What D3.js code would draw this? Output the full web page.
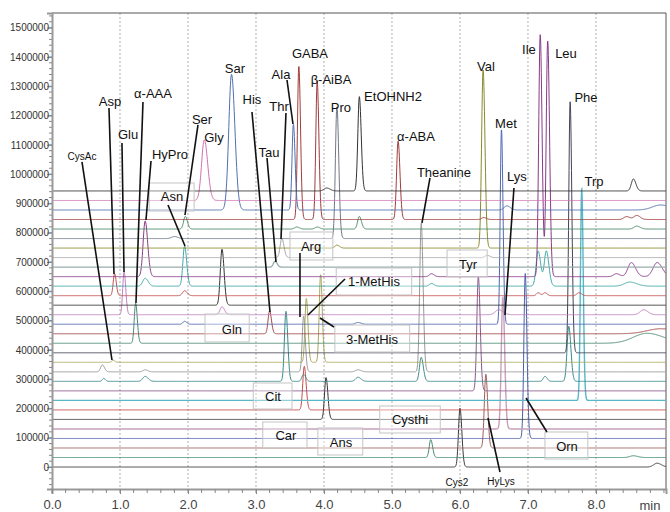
<!DOCTYPE html>
<html>
<head>
<meta charset="utf-8">
<script src="https://cdn.jsdelivr.net/npm/d3@7"></script>
<style>
  body { margin: 0; background: #fff; }
  svg { display: block; font-family: "Liberation Sans", Arial, sans-serif; }
</style>
</head>
<body>
<svg id="chart" width="670" height="512"></svg>
<script>
// one colour per stacked run, bottom run first
const traceColors = [
  "#3a3a3a", "#3f8a6c", "#a0605a", "#4a5fa8", "#c8a0bc", "#333333",
  "#c84a4a", "#58b8c8", "#8a5a8a", "#3a8a8a", "#9a9a9a", "#a8a860",
  "#444456", "#4a8a70", "#a04848", "#5068b0", "#c080c0", "#333333",
  "#c05050", "#40a8a8", "#883a88", "#98acac", "#a4a4a4", "#8a8a30",
  "#707888", "#4a8a6a", "#a03c3c", "#5070b0", "#d070b0", "#333333"
]
const traceStep = 32500

// peaks: [run, time (min), height, width (min)]
const peaks = [
  [0, 6.00, 201000, 0.022], [0, 8.90, 13000, 0.05],
  [1, 5.57, 61000, 0.022], [1, 8.55, 6000, 0.05],
  [2, 6.38, 252000, 0.022],
  [3, 6.96, 563000, 0.02],
  [4, 6.63, 450000, 0.022],
  [5, 4.03, 143000, 0.022],
  [6, 3.71, 149000, 0.022],
  [7, 7.79, 724000, 0.018],
  [8, 6.27, 390000, 0.022],
  [9, 0.76, 10000, 0.02], [9, 1.37, 17000, 0.035], [9, 3.44, 239000, 0.022],
  [9, 3.70, 24000, 0.025], [9, 4.50, 14000, 0.035], [9, 5.43, 82000, 0.025],
  [9, 7.25, 17000, 0.025], [9, 7.60, 188000, 0.025],
  [10, 0.74, 24000, 0.025], [10, 1.37, 7000, 0.03], [10, 3.70, 190000, 0.02],
  [10, 4.50, 7000, 0.035], [10, 5.43, 509000, 0.022],
  [11, 0.90, 7000, 0.02], [11, 3.74, 218000, 0.02], [11, 3.95, 300000, 0.02],
  [12, 7.62, 857000, 0.02],
  [13, 1.23, 137000, 0.02], [13, 8.75, 34000, 0.2],
  [14, 3.20, 78000, 0.022], [14, 8.95, 17000, 0.2],
  [15, 1.95, 10000, 0.025], [15, 4.50, 6000, 0.035], [15, 6.61, 666000, 0.018],
  [16, 1.06, 147000, 0.02], [16, 2.50, 27000, 0.03], [16, 6.57, 17000, 0.05], [16, 8.70, 17000, 0.05],
  [17, 2.50, 191000, 0.025],
  [18, 0.92, 75000, 0.02], [18, 1.95, 17000, 0.03], [18, 7.15, 10000, 0.025],
  [18, 7.25, 10000, 0.025], [18, 7.75, 10000, 0.03],
  [19, 1.37, 27000, 0.035], [19, 1.95, 137000, 0.025], [19, 5.58, 9000, 0.03],
  [19, 7.15, 120000, 0.03], [19, 7.27, 120000, 0.03], [19, 8.50, 14000, 0.08],
  [20, 1.37, 190000, 0.03], [20, 5.58, 10000, 0.03], [20, 7.18, 826000, 0.022],
  [20, 7.29, 806000, 0.022], [20, 8.30, 10000, 0.04], [20, 8.52, 48000, 0.05],
  [20, 8.90, 48000, 0.06],
  [21, 3.28, 20000, 0.025],
  [22, 3.38, 65000, 0.025], [22, 6.40, 8000, 0.03],
  [23, 4.19, 10000, 0.03], [23, 6.34, 608000, 0.022],
  [24, 1.80, 7000, 0.04], [24, 4.19, 451000, 0.022],
  [25, 1.96, 43000, 0.025], [25, 3.60, 7000, 0.03], [25, 3.90, 7000, 0.03],
  [25, 4.52, 43000, 0.025], [25, 8.60, 10000, 0.04],
  [26, 3.63, 524000, 0.02], [26, 3.90, 473000, 0.02], [26, 5.09, 268000, 0.022],
  [26, 6.35, 7000, 0.03], [26, 8.45, 10000, 0.04], [26, 8.60, 14000, 0.04],
  [27, 2.64, 463000, 0.04], [27, 3.55, 293000, 0.02], [27, 6.69, 14000, 0.04],
  [27, 8.95, 17000, 0.12],
  [28, 2.24, 207000, 0.04],
  [29, 4.04, 10000, 0.04], [29, 4.52, 322000, 0.022], [29, 8.55, 41000, 0.03]
]

// peak names: [text, time, signal]
const labels = [
  ["CysAc", 0.441, 1048000], ["Asp", 0.853, 1232600], ["Glu", 1.118, 1119900],
  ["α-AAA", 1.485, 1259900], ["HyPro", 1.735, 1051600], ["Ser", 2.206, 1171100],
  ["Gly", 2.382, 1109700], ["Asn", 1.765, 908200], ["Sar", 2.691, 1345200],
  ["His", 2.941, 1239400], ["Tau", 3.191, 1058400], ["Thr", 3.338, 1215500],
  ["Ala", 3.368, 1324700], ["GABA", 3.794, 1396400], ["β-AiBA", 4.103, 1307700],
  ["Pro", 4.25, 1212100], ["EtOHNH2", 5.015, 1249600], ["α-ABA", 5.353, 1113100],
  ["Theanine", 5.765, 990200], ["Val", 6.382, 1352100], ["Met", 6.676, 1157500],
  ["Lys", 6.838, 976500], ["Ile", 7.015, 1410100], ["Leu", 7.559, 1396400],
  ["Phe", 7.853, 1246200], ["Trp", 7.971, 959400], ["Arg", 3.809, 737500],
  ["1-MetHis", 4.735, 618000], ["3-MetHis", 4.706, 420000], ["Gln", 2.647, 454200],
  ["Tyr", 6.118, 676100], ["Cit", 3.25, 225400], ["Car", 3.441, 92300],
  ["Ans", 4.25, 68400], ["Cysthi", 5.265, 146900], ["Orn", 7.574, 54700],
  ["Cys2", 5.956, -64800], ["HyLys", 6.603, -61300]
]
const smallLabels = ["CysAc", "Cys2", "HyLys"]

// leader lines: [time1, signal1, time2, signal2]
const leaders = [
  [0.441, 1041400, 0.882, 365400], [0.838, 1225700, 0.912, 659000],
  [1.029, 1106200, 1.059, 665800], [1.338, 1246200, 1.235, 560000],
  [1.456, 1044800, 1.382, 843400], [2.147, 1167700, 1.956, 860400],
  [1.706, 894600, 1.956, 754600], [2.941, 1212100, 3.206, 529300],
  [3.162, 1055000, 3.294, 700000], [3.441, 1208700, 3.368, 778500],
  [3.456, 1321300, 3.544, 1171100], [5.559, 986800, 5.441, 833100],
  [6.794, 952600, 6.662, 519000], [3.647, 730700, 3.647, 512200],
  [4.309, 641900, 3.765, 519000], [4.147, 478100, 3.941, 508800],
  [7.279, 119600, 6.971, 235700], [6.588, -17000, 6.412, 167400]
]

// label frames: [time1, signal1, time2, signal2]
const frames = [
  [1.43, 969700, 2.09, 874100], [3.50, 802400, 4.13, 706800],
  [4.18, 679500, 5.29, 587300], [4.16, 484900, 5.26, 392700],
  [2.25, 522500, 2.90, 426900], [5.81, 740900, 6.40, 648800],
  [2.96, 286900, 3.53, 198100], [3.10, 153700, 3.75, 65000],
  [3.91, 133300, 4.57, 41100], [4.82, 208400, 5.71, 116200],
  [7.25, 119600, 7.88, 27400]
]

const margin = { top: 13, right: 4, bottom: 23, left: 52 }
const width = 670, height = 512

const x = d3.scaleLinear().domain([0, 9.03]).range([margin.left, width - margin.right])
const y = d3.scaleLinear().domain([-75000, 1550000]).range([height - margin.bottom, margin.top])

const svg = d3.select("#chart")

// dotted minute grid
svg.append("g").selectAll("line").data(d3.range(1, 9))
  .join("line")
  .attr("x1", d => x(d)).attr("x2", d => x(d))
  .attr("y1", y.range()[1]).attr("y2", y.range()[0])
  .attr("stroke", "#9a9a9a").attr("stroke-width", 0.8)
  .attr("stroke-dasharray", "2,2")

// frame top/right
svg.append("path")
  .attr("d", `M${x(0)},${y(1550000)}H${x(9.03)}V${y(-75000)}`)
  .attr("fill", "none").attr("stroke", "#555").attr("stroke-width", 1)

// chromatogram runs
const times = d3.range(0, 9.03 + 1e-9, 0.004)
const signal = (run, t) => d3.sum(peaks.filter(p => p[0] === run), ([, c, h, w]) => {
  const s = t > c ? w * 1.25 : w
  return h * Math.exp(-((t - c) ** 2) / (2 * s * s))
})
const line = d3.line().x(d => x(d[0])).y(d => y(d[1]))

svg.append("g").selectAll("path").data(traceColors)
  .join("path")
  .attr("fill", "none")
  .attr("stroke", d => d)
  .attr("stroke-width", (d, i) => (i === 21 || i === 7 || i === 4) ? 1.4 : 1)
  .attr("d", (d, i) => line(times.map(t => [t, i * traceStep + signal(i, t)])))

// label frames
svg.append("g").selectAll("rect").data(frames)
  .join("rect")
  .attr("x", d => x(d[0])).attr("y", d => y(d[1]))
  .attr("width", d => x(d[2]) - x(d[0]))
  .attr("height", d => y(d[3]) - y(d[1]))
  .attr("fill", "#fff").attr("fill-opacity", 0.35)
  .attr("stroke", "#c4c4c4").attr("stroke-width", 1)

// leaders
svg.append("g").selectAll("line").data(leaders)
  .join("line")
  .attr("x1", d => x(d[0])).attr("y1", d => y(d[1]))
  .attr("x2", d => x(d[2])).attr("y2", d => y(d[3]))
  .attr("stroke", "#111").attr("stroke-width", 1.6)

// names
svg.append("g").selectAll("text").data(labels)
  .join("text")
  .attr("x", d => x(d[1])).attr("y", d => y(d[2]))
  .attr("text-anchor", "middle")
  .attr("font-size", d => smallLabels.includes(d[0]) ? 10 : 13)
  .attr("fill", "#111")
  .text(d => d[0])

// axes
const yAxis = svg.append("g").attr("transform", `translate(${margin.left},0)`)
  .call(d3.axisLeft(y).tickValues(d3.range(0, 1500001, 100000)).tickSize(5).tickPadding(1)
    .tickFormat(d3.format("d")))
yAxis.selectAll(".tick text").attr("font-size", 10).attr("fill", "#333").attr("dx", "3px")
yAxis.append("g").selectAll("line").data(d3.range(-60000, 1550000, 20000))
  .join("line")
  .attr("x1", -3).attr("x2", 0)
  .attr("y1", d => y(d)).attr("y2", d => y(d))
  .attr("stroke", "#888")

const xAxis = svg.append("g").attr("transform", `translate(0,${height - margin.bottom})`)
  .call(d3.axisBottom(x).tickValues(d3.range(0, 9, 1)).tickSize(5).tickPadding(6)
    .tickFormat(d3.format(".1f")))
xAxis.selectAll(".tick text").attr("font-size", 13).attr("fill", "#444")
xAxis.append("g").selectAll("line").data(d3.range(0, 9.03, 0.2))
  .join("line")
  .attr("x1", d => x(d)).attr("x2", d => x(d))
  .attr("y1", 0).attr("y2", 4)
  .attr("stroke", "#888")
xAxis.append("text")
  .attr("x", 650).attr("y", 21)
  .attr("font-size", 13).attr("fill", "#444")
  .text("min")

svg.selectAll(".domain").attr("stroke", "#999").attr("stroke-width", 2)
svg.selectAll(".tick line").attr("stroke", "#888")
</script>
</body>
</html>
